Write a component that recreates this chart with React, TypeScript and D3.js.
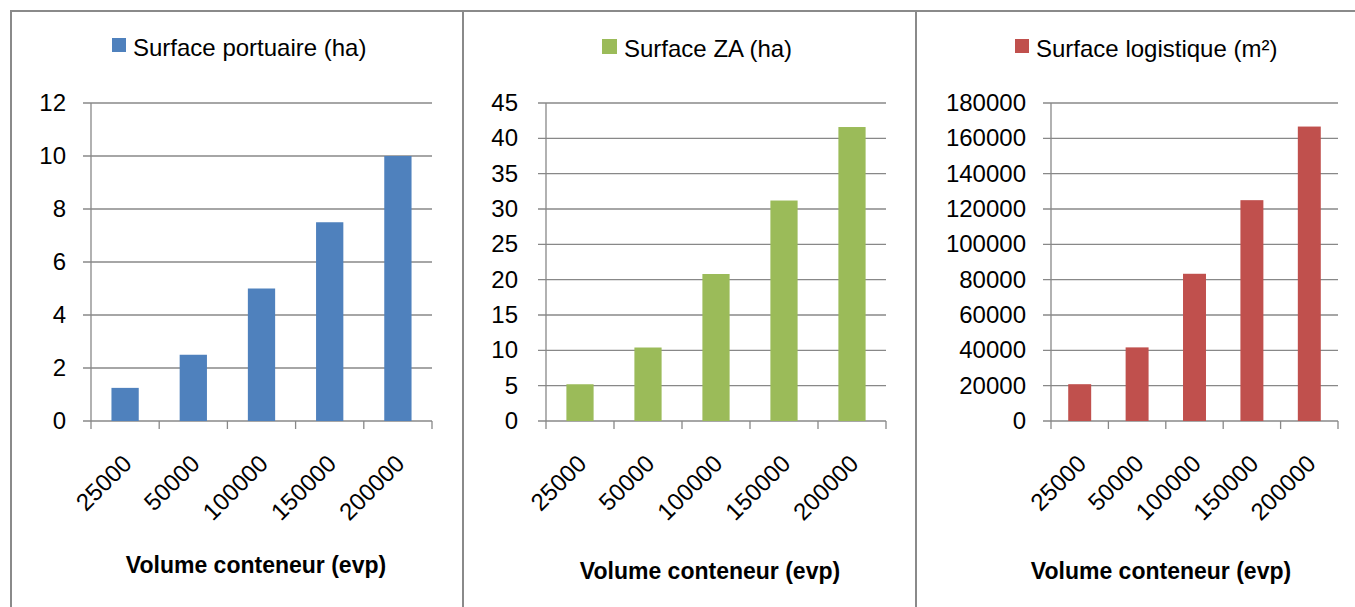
import React from "react";
import * as d3 from "d3";

const categories = ["25000", "50000", "100000", "150000", "200000"];
const surfacePortuaire = [1.25, 2.5, 5, 7.5, 10];
const surfaceZA = [5.2, 10.4, 20.8, 31.2, 41.6];
const surfaceLogistique = [20833, 41667, 83333, 125000, 166667];

const ticksPortuaire = [0, 2, 4, 6, 8, 10, 12];
const ticksZA = [0, 5, 10, 15, 20, 25, 30, 35, 40, 45];
const ticksLogistique = [0, 20000, 40000, 60000, 80000, 100000, 120000, 140000, 160000, 180000];

const legendPortuaire = "Surface portuaire (ha)";
const legendZA = "Surface ZA (ha)";
const legendLogistique = "Surface logistique (m²)";
const xTitle = "Volume conteneur (evp)";

const FONT = "'Liberation Sans', Arial, sans-serif";
const GRID = "#888888";
const BORDER = "#8a8a8a";

type PanelCfg = {
  left: number;
  right: number;
  x0: number;
  x1: number;
  labelX: number;
  legendSq: number;
  sq: number;
  legendY: number;
  titleX: number;
  titleY: number;
  values: number[];
  ticks: number[];
  legend: string;
  color: string;
};

const TOP = 11;
const Y_TOP = 103;
const Y_ZERO = 421;

function Panel({ c }: { c: PanelCfg }) {
  const x = d3
    .scaleBand<string>()
    .domain(categories)
    .range([c.x0, c.x1])
    .paddingInner(0.6)
    .paddingOuter(0.3);
  const step = x.step();
  const y = d3
    .scaleLinear()
    .domain([0, c.ticks[c.ticks.length - 1]])
    .range([Y_ZERO, Y_TOP]);
  return (
    <g>
      <rect
        x={c.left}
        y={TOP}
        width={c.right - c.left}
        height={700}
        fill="none"
        stroke={BORDER}
        strokeWidth={2}
      />
      {/* legend */}
      <rect x={c.legendSq} y={c.legendY - 18} width={c.sq} height={c.sq} fill={c.color} />
      <text
        x={c.legendSq + c.sq + 7}
        y={c.legendY}
        fontFamily={FONT}
        fontSize={24}
        fill="#000"
      >
        {c.legend}
      </text>
      {/* gridlines */}
      {c.ticks.map((t) => (
        <line
          key={"g" + t}
          x1={c.x0 - 8}
          x2={c.x1}
          y1={y(t)}
          y2={y(t)}
          stroke={GRID}
          strokeWidth={1.3}
        />
      ))}
      {c.ticks.map((t) => (
        <text
          key={"l" + t}
          x={c.labelX}
          y={y(t) + 8}
          textAnchor="end"
          fontFamily={FONT}
          fontSize={24}
          fill="#000"
        >
          {t}
        </text>
      ))}
      {/* y axis */}
      <line x1={c.x0} x2={c.x0} y1={Y_TOP} y2={Y_ZERO} stroke={GRID} strokeWidth={1.3} />
      {/* bars */}
      {c.values.map((v, i) => (
        <rect
          key={"b" + i}
          x={x(categories[i])}
          y={y(v)}
          width={x.bandwidth()}
          height={Y_ZERO - y(v)}
          fill={c.color}
        />
      ))}
      {/* x ticks */}
      {d3.range(categories.length + 1).map((i) => (
        <line
          key={"t" + i}
          x1={c.x0 + i * step}
          x2={c.x0 + i * step}
          y1={Y_ZERO}
          y2={Y_ZERO + 8}
          stroke={GRID}
          strokeWidth={1.3}
        />
      ))}
      {categories.map((cat) => {
        const cx = (x(cat) as number) + x.bandwidth() / 2;
        return (
          <text
            key={"x" + cat}
            transform={`translate(${cx + 8},${Y_ZERO + 44}) rotate(-45)`}
            textAnchor="end"
            fontFamily={FONT}
            fontSize={24}
            fill="#000"
          >
            {cat}
          </text>
        );
      })}
      <text
        x={c.titleX}
        y={c.titleY}
        textAnchor="middle"
        fontFamily={FONT}
        fontSize={23}
        fontWeight="bold"
        fill="#000"
      >
        {xTitle}
      </text>
    </g>
  );
}

const panels: PanelCfg[] = [
  {
    left: 11, right: 463, x0: 91, x1: 432, labelX: 66, legendSq: 112, sq: 14, legendY: 56,
    titleX: 256, titleY: 573, values: surfacePortuaire, ticks: ticksPortuaire,
    legend: legendPortuaire, color: "#4F81BD",
  },
  {
    left: 463, right: 916, x0: 546, x1: 886, labelX: 518, legendSq: 602, sq: 15, legendY: 57,
    titleX: 710, titleY: 579, values: surfaceZA, ticks: ticksZA,
    legend: legendZA, color: "#9BBB59",
  },
  {
    left: 916, right: 1400, x0: 1051, x1: 1338, labelX: 1026, legendSq: 1015, sq: 14, legendY: 57,
    titleX: 1161, titleY: 579, values: surfaceLogistique, ticks: ticksLogistique,
    legend: legendLogistique, color: "#C0504D",
  },
];

export default function App() {
  return (
    <svg
      width={1355}
      height={607}
      style={{ position: "absolute", left: 0, top: 0, background: "#fff" }}
    >
      <rect x={0} y={0} width={1355} height={607} fill="#fff" />
      {panels.map((p, i) => (
        <Panel key={i} c={p} />
      ))}
    </svg>
  );
}
